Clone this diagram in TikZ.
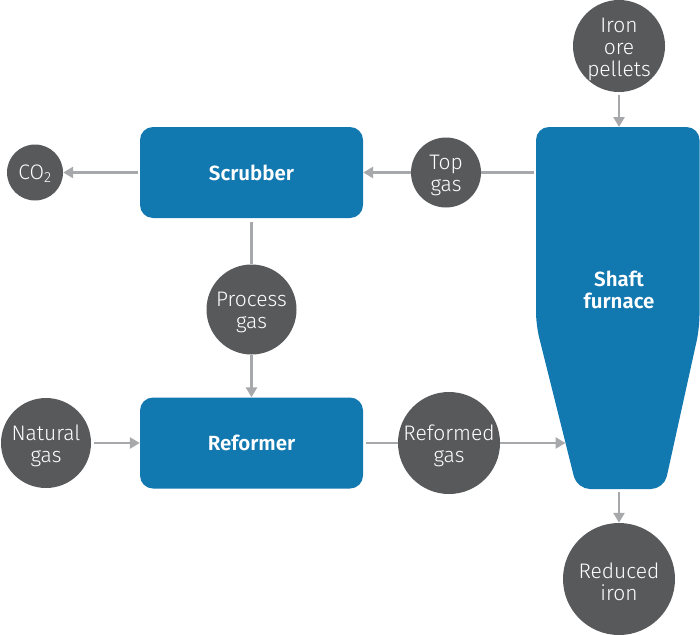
\documentclass[tikz,border=0pt]{standalone}
\usepackage{fontspec}
\setmainfont{Fira Sans}[UprightFont=* Light, BoldFont=* SemiBold]
\usetikzlibrary{arrows.meta}
\definecolor{procblue}{HTML}{1278B0}
\definecolor{streamgray}{HTML}{58595B}
\definecolor{linegray}{HTML}{A7A8AB}
\begin{document}
\begin{tikzpicture}[x=1pt,y=-1pt,
  stream/.style={circle, fill=streamgray, inner sep=0pt, minimum size=#1},
  streamtext/.style={text=white, align=center, inner sep=0pt, yshift=-3pt,
    font=\fontsize{21}{22}\selectfont},
  unit/.style={rectangle, rounded corners=13pt, fill=procblue, text=white,
    minimum width=223pt, minimum height=91pt,
    font=\fontsize{20.5}{22}\selectfont\bfseries},
  feed/.style={draw=linegray, line width=2.5pt},
  flow/.style={feed, -{Triangle[length=10pt,width=11pt]}}]
\useasboundingbox (0,0) rectangle (700,634);

% shaft furnace body
\fill[procblue, rounded corners=13pt]
  (536,127) -- (699.5,127) -- (699.5,328) -- (664,489)
  -- (577,489) -- (536,325) -- cycle;
\node[text=white, align=center, font=\fontsize{20.5}{22}\selectfont\bfseries]
  (furnace) at (619,290) {Shaft\\furnace};
\coordinate (fTop) at (619,127);
\coordinate (fLeft) at (536,172.5);
\coordinate (fIn) at (565.5,443);
\coordinate (fBot) at (619,489);

% process units
\node[unit] (scrubber) at (251.5,172.5) {Scrubber};
\node[unit] (reformer) at (251.5,443) {Reformer};

% material streams
\node[stream=92pt,  label={[streamtext]center:Iron\\ore\\pellets}] (iron) at (619,46) {};
\node[stream=70pt,  label={[streamtext]center:Top\\gas}] (top) at (446,172.5) {};
\node[stream=56pt,  label={[streamtext, yshift=2pt]center:CO\textsubscript{2}}] (co2) at (35,172.5) {};
\node[stream=90pt,  label={[streamtext]center:Process\\gas}] (process) at (251.5,309.5) {};
\node[stream=90pt,  label={[streamtext]center:Natural\\gas}] (natural) at (46,443) {};
\node[stream=102pt, label={[streamtext]center:Reformed\\gas}] (reformed) at (449,443) {};
\node[stream=112pt, label={[streamtext]center:Reduced\\iron}] (reduced) at (619,579) {};

% connectors
\draw[flow, shorten <=3pt] (iron) -- (fTop);
\draw[feed, shorten <=2pt] (fLeft) -- (top);
\draw[flow] (top) -- (scrubber);
\draw[flow, shorten <=2pt] (scrubber) -- (co2);
\draw[feed, shorten <=4pt] (scrubber) -- (process);
\draw[flow] (process) -- (reformer);
\draw[flow, shorten <=3pt] (natural) -- (reformer);
\draw[feed, shorten <=3pt] (reformer) -- (reformed);
\draw[flow] (reformed) -- (fIn);
\draw[flow, shorten <=3pt] (fBot) -- (reduced);
\end{tikzpicture}
\end{document}
